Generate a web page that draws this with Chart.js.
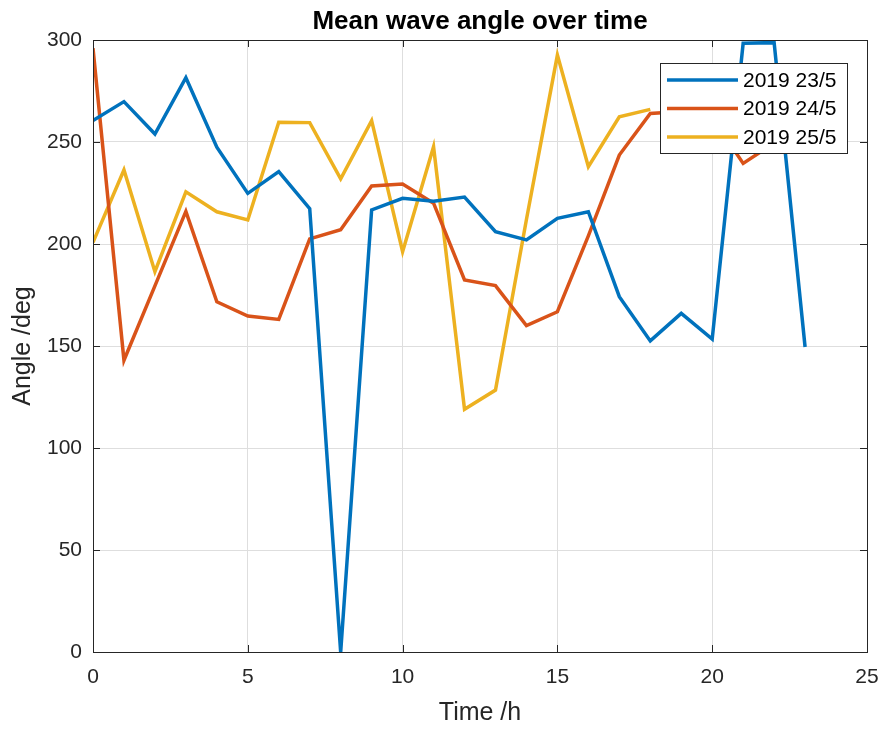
<!DOCTYPE html>
<html>
<head>
<meta charset="utf-8">
<script src="https://cdn.jsdelivr.net/npm/chart.js@4"></script>
<style>
  html, body { margin: 0; padding: 0; background: #fff; }
  #wrap { width: 889px; height: 731px; }
</style>
</head>
<body>
<div id="wrap"><canvas id="waveAngle" width="889" height="731"></canvas></div>
<script>
// hourly mean wave angle, three days
const hours23 = [0, 1, 2, 3, 4, 5, 6, 7, 8, 9, 10, 11, 12, 13, 14, 15, 16, 17, 18, 19, 20, 21, 22, 23];
const angle23 = [260.5, 269.8, 253.9, 281.5, 247.5, 224.8, 235.5, 217.3, 0, 216.7, 222.4, 221, 223, 206, 202, 212.6, 215.8, 174.2, 152.5, 166, 153.4, 298.4, 298.7, 149.5];
const hours24 = [0, 1, 2, 3, 4, 5, 6, 7, 8, 9, 10, 11, 12, 13, 14, 15, 16, 17, 18, 19, 20, 21, 22];
const angle24 = [296, 143, 179.5, 216, 171.7, 164.7, 163, 202.5, 207, 228.4, 229.4, 220, 182.4, 179.6, 160, 166.8, 204, 243.6, 264, 265, 262, 239.5, 249.5];
const hours25 = [0, 1, 2, 3, 4, 5, 6, 7, 8, 9, 10, 11, 12, 13, 14, 15, 16, 17, 18];
const angle25 = [200.8, 236.3, 186.4, 225.6, 215.8, 211.8, 259.7, 259.5, 231.9, 260.5, 196.2, 247.7, 119, 128.4, 212, 292.6, 237.9, 262.4, 266];
const seriesNames = ['2019 23/5', '2019 24/5', '2019 25/5'];

const colors = ['#0072BD', '#D95319', '#EDB120'];
const axisColor = '#262626';
const fontFamily = '"Liberation Sans", Arial, Helvetica, sans-serif';

const toPoints = (xs, ys) => xs.map((x, i) => ({ x: x, y: ys[i] }));

// box around the plot, inward ticks and the boxed legend
const matlabAxes = {
  id: 'matlabAxes',
  afterDatasetsDraw(chart) {
    const { ctx, chartArea: a, scales } = chart;
    ctx.save();
    ctx.strokeStyle = axisColor;
    ctx.lineWidth = 1;
    ctx.strokeRect(a.left + 0.5, a.top + 0.5, a.right - a.left, a.bottom - a.top);

    const len = 7;
    ctx.beginPath();
    scales.x.ticks.forEach(t => {
      const px = Math.round(scales.x.getPixelForValue(t.value)) + 0.5;
      ctx.moveTo(px, a.bottom); ctx.lineTo(px, a.bottom - len);
      ctx.moveTo(px, a.top); ctx.lineTo(px, a.top + len);
    });
    scales.y.ticks.forEach(t => {
      const py = Math.round(scales.y.getPixelForValue(t.value)) + 0.5;
      ctx.moveTo(a.left, py); ctx.lineTo(a.left + len, py);
      ctx.moveTo(a.right, py); ctx.lineTo(a.right - len, py);
    });
    ctx.stroke();

    // legend
    const boxW = 187, boxH = 90;
    const bx = a.right - 20 - boxW, by = a.top + 23;
    ctx.fillStyle = '#fff';
    ctx.fillRect(bx, by, boxW, boxH);
    ctx.strokeStyle = axisColor;
    ctx.lineWidth = 1;
    ctx.strokeRect(bx + 0.5, by + 0.5, boxW, boxH);
    ctx.font = '21px ' + fontFamily;
    ctx.textBaseline = 'middle';
    chart.data.datasets.forEach((ds, i) => {
      const y = by + 17 + i * 28.5;
      ctx.strokeStyle = ds.borderColor;
      ctx.lineWidth = 3.5;
      ctx.beginPath();
      ctx.moveTo(bx + 7, y); ctx.lineTo(bx + 78, y);
      ctx.stroke();
      ctx.fillStyle = '#000';
      ctx.fillText(ds.label, bx + 83, y + 1);
    });
    ctx.restore();
  }
};

new Chart(document.getElementById('waveAngle').getContext('2d'), {
  type: 'line',
  data: {
    datasets: [
      { label: seriesNames[0], data: toPoints(hours23, angle23), borderColor: colors[0] },
      { label: seriesNames[1], data: toPoints(hours24, angle24), borderColor: colors[1] },
      { label: seriesNames[2], data: toPoints(hours25, angle25), borderColor: colors[2] }
    ]
  },
  options: {
    responsive: false,
    animation: false,
    devicePixelRatio: 1,
    elements: {
      line: { borderWidth: 3.5, tension: 0, fill: false, borderJoinStyle: 'miter' },
      point: { radius: 0, hoverRadius: 0 }
    },
    layout: { padding: { left: 0, right: 22, top: 0, bottom: 0 } },
    plugins: {
      legend: { display: false },
      tooltip: { enabled: false },
      title: {
        display: true,
        fullSize: false,
        text: 'Mean wave angle over time',
        color: '#000',
        font: { family: fontFamily, size: 26, weight: 'bold', lineHeight: 1.2 },
        padding: { top: 6.5, bottom: 2.3 }
      }
    },
    scales: {
      x: {
        type: 'linear',
        min: 0,
        max: 25,
        afterFit(scale) {
          scale.height = 79;
          scale.paddingLeft = 0;
          scale.paddingRight = 0;
        },
        ticks: { stepSize: 5, color: axisColor, font: { family: fontFamily, size: 21 }, padding: 13, maxRotation: 0 },
        grid: { color: '#dedede', drawTicks: false, tickLength: 0 },
        border: { display: false },
        title: {
          display: true,
          text: 'Time /h',
          color: axisColor,
          font: { family: fontFamily, size: 25 },
          padding: { top: 0, bottom: 3 }
        }
      },
      y: {
        min: 0,
        max: 300,
        afterFit(scale) { scale.width = 93; },
        ticks: { stepSize: 50, color: axisColor, font: { family: fontFamily, size: 21 }, padding: 11 },
        grid: { color: '#dedede', drawTicks: false, tickLength: 0 },
        border: { display: false },
        title: {
          display: true,
          text: 'Angle /deg',
          color: axisColor,
          font: { family: fontFamily, size: 25 },
          padding: { top: 8, bottom: 0 }
        }
      }
    }
  },
  plugins: [matlabAxes]
});
</script>
</body>
</html>
